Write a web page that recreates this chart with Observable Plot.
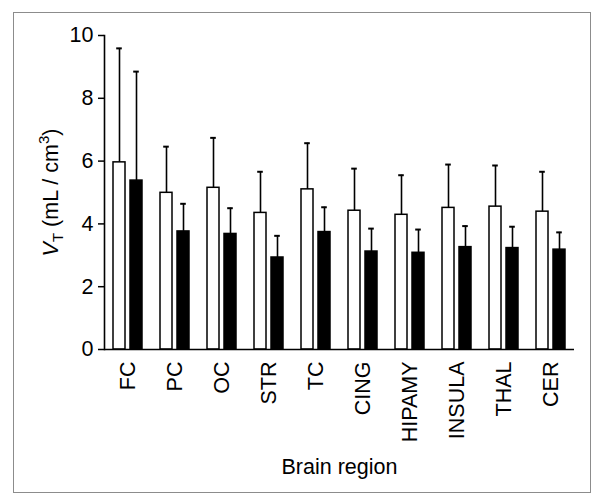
<!DOCTYPE html>
<html>
<head>
<meta charset="utf-8">
<script src="https://cdn.jsdelivr.net/npm/d3@7"></script>
<script src="https://cdn.jsdelivr.net/npm/@observablehq/plot@0.6"></script>
<style>
  html, body { margin: 0; padding: 0; background: white; }
  #wrap { position: relative; width: 601px; height: 504px; }
  #border { position: absolute; left: 13px; top: 12px; width: 576px; height: 479px; border: 1px solid #8c8c8c; pointer-events: none; }
  #chart { position: absolute; left: 0; top: 0; }
</style>
</head>
<body>
<div id="wrap"><div id="chart"></div><div id="border"></div></div>
<script>
const regions = ["FC", "PC", "OC", "STR", "TC", "CING", "HIPAMY", "INSULA", "THAL", "CER"];
const groups = ["open", "filled"];
const openMean = [5.96, 4.99, 5.15, 4.35, 5.10, 4.42, 4.29, 4.51, 4.55, 4.39];
const openSD   = [3.63, 1.47, 1.59, 1.31, 1.47, 1.34, 1.26, 1.38, 1.31, 1.27];
const filledMean = [5.38, 3.76, 3.68, 2.93, 3.74, 3.12, 3.08, 3.26, 3.23, 3.18];
const filledSD   = [3.47, 0.88, 0.82, 0.69, 0.79, 0.73, 0.74, 0.67, 0.68, 0.55];
const yTicks = [0, 2, 4, 6, 8, 10];

const data = regions.flatMap((r, i) => [
  {region: r, group: "open", mean: openMean[i], sd: openSD[i]},
  {region: r, group: "filled", mean: filledMean[i], sd: filledSD[i]}
]);

const chart = Plot.plot({
  width: 601,
  height: 504,
  marginLeft: 103,
  marginRight: 26,
  marginTop: 35,
  marginBottom: 155,
  style: {fontFamily: "'Liberation Sans', Arial, sans-serif", fontSize: "21.5px", color: "black", background: "transparent"},
  fx: {domain: regions, paddingInner: 0, paddingOuter: 0},
  x: {domain: groups, paddingInner: 0.2857, paddingOuter: 0.49, axis: null},
  y: {domain: [0, 10]},
  color: {domain: groups, range: ["white", "black"]},
  marks: [
    Plot.barY(data, {fx: "region", x: "group", y: "mean", fill: "group", stroke: "black", strokeWidth: 1.5}),
    Plot.ruleX(data, {fx: "region", x: "group", y1: "mean", y2: d => d.mean + d.sd, stroke: "black", strokeWidth: 1.6}),
    Plot.tickY(data, {fx: "region", x: "group", y: d => d.mean + d.sd, insetLeft: 3.2, insetRight: 3.2, stroke: "black", strokeWidth: 2}),
    Plot.ruleY([0], {stroke: "black", strokeWidth: 1.6}),
    Plot.frame({anchor: "left", facetAnchor: "left", stroke: "black", strokeWidth: 1.6}),
    Plot.axisY({ticks: yTicks, tickSize: 6, tickPadding: 5, strokeWidth: 1.5, label: "V_T (mL / cm3)", labelAnchor: "center", labelOffset: 62, labelArrow: "none"}),
    Plot.axisFx({anchor: "bottom", tickRotate: -90, tickSize: 0, tickPadding: 12, label: "Brain region", labelAnchor: "center", labelOffset: 124, labelArrow: "none"})
  ]
});

document.getElementById("chart").appendChild(chart);

// rich y label: italic V with subscript T, superscript 3
const yl = chart.querySelector('[aria-label="y-axis label"] text');
if (yl) {
  yl.textContent = "";
  const ns = "http://www.w3.org/2000/svg";
  const parts = [
    {t: "V", style: "italic"},
    {t: "T", sub: true},
    {t: " (mL / cm", back: true},
    {t: "3", sup: true},
    {t: ")", backSup: true}
  ];
  for (const p of parts) {
    const ts = document.createElementNS(ns, "tspan");
    ts.textContent = p.t;
    if (p.style) ts.setAttribute("font-style", p.style);
    if (p.sub) { ts.setAttribute("font-size", "15"); ts.setAttribute("dy", "5"); }
    if (p.back) ts.setAttribute("dy", "-5");
    if (p.sup) { ts.setAttribute("font-size", "15"); ts.setAttribute("dy", "-9"); }
    if (p.backSup) ts.setAttribute("dy", "9");
    yl.appendChild(ts);
  }
}
</script>
</body>
</html>
